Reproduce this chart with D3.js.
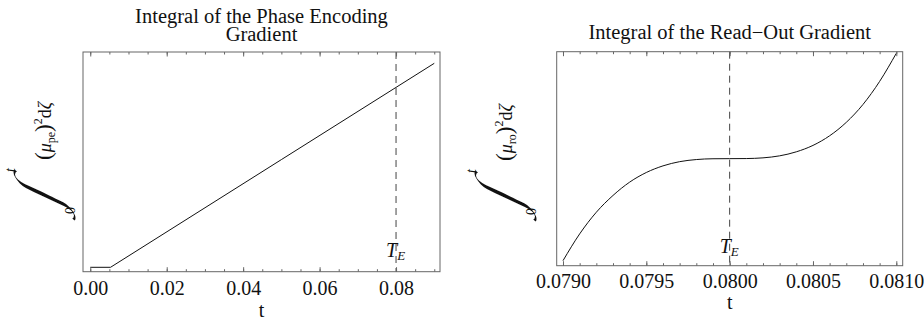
<!DOCTYPE html>
<html>
<head>
<meta charset="utf-8">
<script src="https://cdn.jsdelivr.net/npm/d3@7"></script>
<style>
  html, body { margin: 0; padding: 0; background: #fff; }
  svg { display: block; }
  text { font-family: "Liberation Serif", "Times New Roman", serif; fill: #111; }
</style>
</head>
<body>
<svg id="chart" width="924" height="320"></svg>
<script>
// ---------------- data ----------------
const peTitle = ["Integral of the Phase Encoding", "Gradient"];
const roTitle = ["Integral of the Read\u2212Out Gradient"];
const xLabel = "t";
const TE = 0.08;

// left panel: phase encoding integral (arbitrary units)
const peT = [0, 0.0053, 0.05, 0.09];
const peV = [0.044, 0.044, 1.121, 2.084];
const peMajorTicks = [0, 0.02, 0.04, 0.06, 0.08];
const peTickLabels = ["0.00", "0.02", "0.04", "0.06", "0.08"];
const peMinorTicks = [0, 0.005, 0.01, 0.015, 0.02, 0.025, 0.03, 0.035, 0.04, 0.045, 0.05, 0.055, 0.06, 0.065, 0.07, 0.075, 0.08, 0.085, 0.09];

// right panel: read-out integral (arbitrary units)
const roT = [0.0790, 0.0791, 0.0792, 0.0793, 0.0794, 0.0795, 0.0796, 0.0797, 0.0798, 0.0799, 0.0800,
             0.0801, 0.0802, 0.0803, 0.0804, 0.0805, 0.0806, 0.0807, 0.0808, 0.0809, 0.0810];
const roV = [-1.017, -0.750, -0.534, -0.367, -0.234, -0.138, -0.072, -0.030, -0.009, -0.001, 0.000,
             0.001, 0.008, 0.028, 0.068, 0.132, 0.228, 0.362, 0.540, 0.770, 1.050];
const roMajorTicks = [0.0790, 0.0795, 0.0800, 0.0805, 0.0810];
const roTickLabels = ["0.0790", "0.0795", "0.0800", "0.0805", "0.0810"];
const roMinorTicks = [0.0790, 0.0791, 0.0792, 0.0793, 0.0794, 0.0795, 0.0796, 0.0797, 0.0798, 0.0799, 0.0800,
                      0.0801, 0.0802, 0.0803, 0.0804, 0.0805, 0.0806, 0.0807, 0.0808, 0.0809, 0.0810];

// ---------------- helpers ----------------
function inkBounds(ch, fontSpec, tanSkew) {
  const c = document.createElement("canvas");
  c.width = 700; c.height = 700;
  const ctx = c.getContext("2d");
  ctx.font = fontSpec;
  ctx.fillStyle = "#000";
  ctx.setTransform(1, 0, -tanSkew, 1, 300, 450);
  ctx.fillText(ch, 0, 0);
  const data = ctx.getImageData(0, 0, 700, 700).data;
  let x0 = 1e9, x1 = -1e9, y0 = 1e9, y1 = -1e9;
  for (let y = 0; y < 700; y++) for (let x = 0; x < 700; x++) {
    if (data[(y * 700 + x) * 4 + 3] > 40) {
      if (x < x0) x0 = x; if (x > x1) x1 = x; if (y < y0) y0 = y; if (y > y1) y1 = y;
    }
  }
  return { x0: x0 - 300, x1: x1 + 1 - 300, y0: y0 - 450, y1: y1 + 1 - 450 };
}

// ---------------- layout ----------------
const svg = d3.select("#chart");
const frameColor = "#666";
const intFont = '"Liberation Serif"';
// integral sign target box (rotated label coords)
const intBox = { x: 0, w: 54, y: -38, h: 64 };
const ib0 = inkBounds("\u222B", `200px ${intFont}`, 0);
const s0 = intBox.h / (ib0.y1 - ib0.y0);
const tanSkew = Math.max(0, (intBox.w - s0 * (ib0.x1 - ib0.x0)) / intBox.h);
const ib = inkBounds("\u222B", `200px ${intFont}`, tanSkew);

const panels = [
  {
    title: peTitle, titleBaseline: 22.7,
    sub: "pe", linear: true,
    T: peT, V: peV, major: peMajorTicks, labels: peTickLabels, minor: peMinorTicks,
    x: d3.scaleLinear().domain([-0.0019, 0.0915]).range([83, 440]),
    y: d3.scaleLinear().domain([0, 2.197]).range([271.7, 52]),
    tickBase: 295, tBase: 316.5,
    labelX: 51, labelY: 222,
    teBase: 257
  },
  {
    title: roTitle, titleBaseline: 39.3,
    sub: "ro", linear: false,
    T: roT, V: roV, major: roMajorTicks, labels: roTickLabels, minor: roMinorTicks,
    x: d3.scaleLinear().domain([0.0789622, 0.0810384]).range([556.7, 902.7]),
    y: d3.scaleLinear().domain([-1.067, 1.066]).range([265.7, 51.7]),
    tickBase: 288.3, tBase: 309,
    labelX: 512, labelY: 223,
    teBase: 253
  }
];

panels.forEach(p => {
  const g = svg.append("g");
  const [x0, x1] = p.x.range();
  const [y0, y1] = p.y.range(); // y0 bottom, y1 top
  const cx = (x0 + x1) / 2;

  // title (one text element, lines as tspans)
  const tt = g.append("text").attr("x", cx).attr("y", p.titleBaseline)
    .attr("text-anchor", "middle").style("font-size", "20.5px");
  p.title.forEach((line, i) => {
    tt.append("tspan").attr("x", cx).attr("dy", i === 0 ? 0 : 18).text(line);
  });

  // dashed TE line
  g.append("line")
    .attr("x1", p.x(TE)).attr("x2", p.x(TE))
    .attr("y1", y1).attr("y2", y0)
    .attr("stroke", "#444").attr("stroke-width", 1)
    .attr("stroke-dasharray", "7,5");

  // curve
  const pts = p.T.map((t, i) => [t, p.V[i]]);
  g.append("path")
    .attr("d", d3.line().x(d => p.x(d[0])).y(d => p.y(d[1]))
      .curve(p.linear ? d3.curveLinear : d3.curveMonotoneX)(pts))
    .attr("fill", "none").attr("stroke", "#111").attr("stroke-width", 1);

  // axes (ticks inside the frame)
  const styleAxis = sel => {
    sel.select(".domain").remove();
    sel.selectAll(".tick line").attr("stroke", frameColor);
  };
  g.append("g").attr("transform", `translate(0,${y0})`)
    .call(d3.axisBottom(p.x).tickValues(p.minor).tickSizeInner(-2.5).tickSizeOuter(0).tickFormat(""))
    .call(styleAxis);
  const bottom = g.append("g").attr("transform", `translate(0,${y0})`)
    .call(d3.axisBottom(p.x).tickValues(p.major).tickSizeInner(-4.5).tickSizeOuter(0)
      .tickFormat((d, i) => p.labels[i]))
    .call(styleAxis);
  bottom.selectAll(".tick text")
    .attr("y", p.tickBase - y0).attr("dy", null)
    .attr("fill", "#111")
    .style("font-family", '"Liberation Serif", serif').style("font-size", "20px");
  g.append("g").attr("transform", `translate(0,${y1})`)
    .call(d3.axisTop(p.x).tickValues(p.minor).tickSizeInner(-2.5).tickSizeOuter(0).tickFormat(""))
    .call(styleAxis);
  g.append("g").attr("transform", `translate(0,${y1})`)
    .call(d3.axisTop(p.x).tickValues(p.major).tickSizeInner(-4.5).tickSizeOuter(0).tickFormat(""))
    .call(styleAxis);

  // frame
  g.append("rect").attr("x", x0).attr("y", y1).attr("width", x1 - x0).attr("height", y0 - y1)
    .attr("fill", "none").attr("stroke", frameColor).attr("stroke-width", 1);

  // TE label
  const te = g.append("text").attr("x", p.x(TE) - 10).attr("y", p.teBase)
    .style("font-size", "20px").style("font-style", "italic");
  te.append("tspan").text("T");
  te.append("tspan").attr("dy", 3).style("font-size", "13px").text("E");

  // x label
  g.append("text").attr("x", cx).attr("y", p.tBase).attr("text-anchor", "middle")
    .style("font-size", "20px").text(xLabel);

  // y label (rotated; local x runs upward, local y runs rightward)
  const lab = g.append("g").attr("transform", `translate(${p.labelX},${p.labelY}) rotate(-90)`);
  const sx = intBox.w / (ib.x1 - ib.x0), sy = intBox.h / (ib.y1 - ib.y0);
  const erode = 1.7 / ((sx + sy) / 2); // thin the heavy glyph stroke (screen px -> local units)
  lab.append("text").style("font-size", "200px").style("font-family", intFont)
    .attr("stroke", "#fff").attr("stroke-width", erode).attr("stroke-linejoin", "round")
    .attr("transform",
      `matrix(${sx},0,${-sx * tanSkew},${sy},${intBox.x - sx * ib.x0},${intBox.y - sy * ib.y0})`)
    .text("\u222B");
  lab.append("text").attr("x", 8).attr("y", 24).style("font-size", "14px").text("0");
  lab.append("text").attr("x", 50).attr("y", -36).style("font-size", "14px").style("font-style", "italic").text("t");
  const main = lab.append("text").attr("x", 62).attr("y", 0).style("font-size", "18px");
  main.append("tspan").style("font-size", "23px").text("(");
  main.append("tspan").style("font-style", "italic").text("\u03BC");
  main.append("tspan").attr("dy", 4).style("font-size", "12px").text(p.sub);
  main.append("tspan").attr("dy", -4).style("font-size", "23px").text(")");
  main.append("tspan").attr("dy", -9).style("font-size", "12px").text("2");
  main.append("tspan").attr("dy", 9).text("d");
  main.append("tspan").style("font-style", "italic").text("\u03B6");
});
</script>
</body>
</html>
